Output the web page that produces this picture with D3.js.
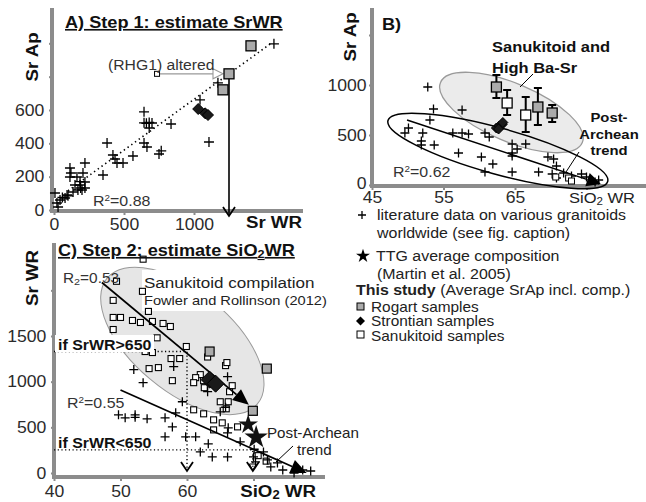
<!DOCTYPE html>
<html><head><meta charset="utf-8">
<script src="https://cdn.jsdelivr.net/npm/d3@7"></script>
<style>
body{margin:0;background:#fff;}
svg{display:block;font-family:Arial,"Liberation Sans",sans-serif;}
</style></head><body>
<script>
// ---- A) Sr whole rock vs Sr apatite ----
const litA = [[1571,997],[1043,661],[1171,763],[643,589],[643,523],[660,520],[680,525],[700,522],[680,492],[836,516],
  [643,402],[664,378],[750,336],[766,355],[1107,408],[379,402],[421,330],[436,306],[450,282],[493,282],[564,324],
  [350,210],[221,168],[164,198],[114,252],[121,222],[114,198],[221,282],[207,222],[186,150],[171,120],[200,120],
  [221,132],[136,108],[93,90],[79,72],[43,60],[21,42],[29,18],[7,102],[150,150],[186,170],[190,132],[60,75],[100,85]];
const rogartA = [[1407,985],[1250,817],[1207,721]];
const strontianA = [[1030,606],[1080,580],[1100,570]];
const alteredA = [[736,817]];
const fitA = [[100,115],[1560,1006]];
const xTicksA = [0,500,1000];
const yTicksA = [0,200,400,600,800,1000];

// ---- B) SiO2 WR vs Sr apatite ----
const litB = [[52.8,980],[53.6,760],[53.1,650],[57.6,750],[50.1,570],[49.6,520],[52.1,520],[51.9,400],[53.7,400],
  [57.1,320],[56.3,520],[57.6,520],[58.5,510],[60.8,520],[61.4,480],[60.3,280],[61.9,210],[60.8,130],[64.6,410],
  [64.6,320],[64.6,290],[65.3,360],[66.5,410],[64.6,130],[68.3,130],[69.6,280],[70.4,260],[70.8,190],[70.2,110],
  [71.8,120],[70.8,70],[72.9,90],[74.3,110],[75.0,80],[76.2,30],[76.7,50],[51.9,440]];
const sanukLitB = [[70.7,80],[72.5,70],[72.9,40]];
const rogartB = [[62.4,980,870,1100],[68.2,780,600,970],[70.2,720,630,800]];
const sanukB = [[63.9,820,700,950],[66.5,700,530,880]];
const strontianB = [[62.4,570],[62.8,590],[63.2,605],[62.7,560],[63.3,625]];
const fitB = [[49.9,650],[77.0,10]];
const xTicksB = [45,55,65,75];
const xLabelsB = [45,55,65];
const yTicksB = [0,500,1000,1500];
const yLabelsB = [0,500,1000];

// ---- C) SiO2 WR vs Sr WR ----
const sanukC = [[53.4,2341],[49.4,2099],[53.3,1989],[48.9,1890],[54.2,1769],[48.9,1703],[50.0,1703],[51.8,1670],
  [53.0,1648],[54.8,1659],[56.4,1637],[57.5,1604],[48.9,1571],[59.9,1385],[53.7,1330],[54.8,1319],[57.6,1253],
  [58.9,1253],[54.3,1143],[55.7,1154],[57.8,1011],[62.0,1077],[61.3,1044],[61.0,989],[62.5,1011],[62.6,934],
  [65.8,1176],[66.0,1209],[66.8,956],[66.4,890],[65.0,780],[66.2,780],[65.9,703],[61.0,692],[62.5,648],[64.0,582],
  [65.3,549],[64.0,472],[67.6,505],[63.1,1270],[55.5,1480],[70.7,190],[71.9,130]];
const litC = [[52.0,1132],[53.4,989],[58.0,1165],[59.3,780],[58.3,659],[49.7,637],[50.7,604],[52.2,637],[52.2,610],
  [54.0,593],[56.7,604],[57.8,505],[56.7,396],[59.8,396],[61.3,396],[63.2,319],[62.0,231],[63.8,176],[66.1,176],
  [66.1,440],[66.2,495],[65.0,670],[66.1,1055],[68.0,341],[70.0,176],[70.3,121],[71.5,231],[72.1,143],[72.6,66],
  [73.6,110],[74.4,33],[76.1,0],[77.4,33],[78.6,22],[63.1,890],[65.8,720],[70.1,260]];
const rogartC = [[63.4,1330],[72.0,1143],[69.9,681]];
const strontianC = [[63.4,1022],[64.3,978]];
const ttgC = [[69.2,530],[70.4,390]];
const fitC1 = [[47.2,2086],[69.3,746]];
const fitC2 = [[50.0,909],[78.0,0]];
const cutHi = [60,1330];
const cutLo = [69.9,253];
const xTicksC = [40,50,60,70];
const xLabelsC = [40,50,60];
const yTicksC = [0,500,1000,1500,2000];

const legendLines = ['literature data on various granitoids','worldwide (see fig. caption)',
  'TTG average composition','(Martin et al. 2005)'];
const legendStudy = ['Rogart samples','Strontian samples','Sanukitoid samples'];

const SX = 1.1;
const AX = '#8c8c8c';
const GREY = '#ababab';

const svg = d3.select('body').append('svg').attr('width',646).attr('height',502);

function txt(g, x, y, parts, o = {}) {
  const size = o.size || 14;
  const t = g.append('text')
    .attr('transform', `translate(${x},${y})${o.rot ? ' rotate(' + o.rot + ')' : ''} scale(${SX},1)`)
    .attr('font-size', size)
    .attr('font-weight', o.bold ? 'bold' : null)
    .attr('text-anchor', o.anchor || 'start')
    .attr('fill', o.fill || '#111');
  if (o.deco) t.attr('text-decoration', o.deco);
  if (typeof parts === 'string') parts = [{t: parts}];
  parts.forEach(p => {
    const s = t.append('tspan').text(p.t);
    if (p.bold) s.attr('font-weight', 'bold');
    if (p.sup) { s.attr('font-size', size * 0.62).attr('dy', -size * 0.38); }
    if (p.sub) { s.attr('font-size', size * 0.7).attr('dy', size * 0.12); }
    if (p.back) s.attr('dy', p.back * size);
  });
  return t;
}

function crosses(g, data, x, y, r) {
  g.selectAll(null).data(data).enter().append('path')
    .attr('d', `M${-r},0H${r}M0,${-r}V${r}`)
    .attr('transform', d => `translate(${x(d[0])},${y(d[1])})`)
    .attr('stroke', '#000').attr('stroke-width', 1.3).attr('fill', 'none');
}
function squares(g, data, x, y, s, fill, sw) {
  g.selectAll(null).data(data).enter().append('rect')
    .attr('x', d => x(d[0]) - s / 2).attr('y', d => y(d[1]) - s / 2)
    .attr('width', s).attr('height', s)
    .attr('fill', fill).attr('stroke', '#000').attr('stroke-width', sw);
}
function diamonds(g, data, x, y, r) {
  g.selectAll(null).data(data).enter().append('path')
    .attr('d', `M0,${-r}L${r},0L0,${r}L${-r},0Z`)
    .attr('transform', d => `translate(${x(d[0])},${y(d[1])})`)
    .attr('fill', '#1a1a1a').attr('stroke', '#000').attr('stroke-width', 1);
}
function headFill(g, x1, y1, x2, y2, len, half) {
  const a = Math.atan2(y2 - y1, x2 - x1);
  const bx = x2 - len * Math.cos(a), by = y2 - len * Math.sin(a);
  const px = -Math.sin(a) * half, py = Math.cos(a) * half;
  g.append('path').attr('d', `M${x2},${y2}L${bx + px},${by + py}L${bx - px},${by - py}Z`).attr('fill', '#000');
  return [bx, by];
}
function chevron(g, x, y, w, h) {
  g.append('path').attr('d', `M${x - w},${y - h}L${x},${y}L${x + w},${y - h}`)
    .attr('fill', 'none').attr('stroke', '#000').attr('stroke-width', 1.8);
}
function axes(g, x, y, o) {
  const xa = g.append('g').attr('transform', `translate(0,${o.xAt})`)
    .call(d3.axisBottom(x).tickValues(o.xt).tickSize(4).tickPadding(o.xpad)
      .tickFormat(d => o.xl.includes(d) ? d : ''));
  const ya = g.append('g').attr('transform', `translate(${o.yAt},0)`)
    .call(d3.axisLeft(y).tickValues(o.yt).tickSize(3).tickPadding(o.ypad)
      .tickFormat(d => o.yl.includes(d) ? d : ''));
  [xa, ya].forEach(a => {
    a.select('.domain').remove();
    a.selectAll('line').attr('stroke', AX).attr('stroke-width', 2);
    a.selectAll('text').attr('font-size', 16).attr('fill', '#2b2b2b')
      .attr('font-family', 'Arial, "Liberation Sans", sans-serif')
      .attr('transform', `scale(${SX},1)`);
  });
  g.append('line').attr('x1', o.yAt).attr('x2', o.xEnd).attr('y1', o.xAt).attr('y2', o.xAt)
    .attr('stroke', AX).attr('stroke-width', 4);
  g.append('line').attr('x1', o.yAt).attr('x2', o.yAt).attr('y1', o.xAt + 2).attr('y2', o.yEnd)
    .attr('stroke', AX).attr('stroke-width', 4);
  return ya;
}
const line = (x, y) => d3.line().x(d => x(d[0])).y(d => y(d[1]));

// ================= Panel A =================
const xA = d3.scaleLinear().domain([0, 1000]).range([54, 194]);
const yA = d3.scaleLinear().domain([0, 600]).range([210, 110]);
const gA = svg.append('g');
axes(gA, xA, yA, {xAt: 211, yAt: 52, xEnd: 303, yEnd: 8, xt: xTicksA, xl: xTicksA, yt: yTicksA,
  yl: [0, 200, 400, 600], xpad: 4, ypad: 4});
gA.append('path').datum(fitA).attr('d', line(xA, yA)).attr('fill', 'none')
  .attr('stroke', '#000').attr('stroke-width', 1.6).attr('stroke-dasharray', '1.4,3.2');
crosses(gA, litA, xA, yA, 5);
// altered sample arrow
const ax0 = xA(alteredA[0][0]) + 3, ay = yA(alteredA[0][1]);
const ax1 = xA(rogartA[1][0]) - 6;
gA.append('line').attr('x1', ax0).attr('x2', ax1 - 9).attr('y1', ay).attr('y2', ay)
  .attr('stroke', '#999').attr('stroke-width', 1.3);
gA.append('path').attr('d', `M${ax1 - 10},${ay - 5}L${ax1},${ay}L${ax1 - 10},${ay + 5}Z`)
  .attr('fill', '#fff').attr('stroke', '#999').attr('stroke-width', 1.1);
// vertical arrow to x axis
const vx = xA(rogartA[1][0]);
gA.append('line').attr('x1', vx).attr('x2', vx).attr('y1', yA(rogartA[1][1])).attr('y2', yA(0) + 5)
  .attr('stroke', '#000').attr('stroke-width', 1.6);
chevron(gA, vx, yA(0) + 6, 6, 9);
squares(gA, alteredA, xA, yA, 5, '#fff', 1);
squares(gA, rogartA, xA, yA, 10, GREY, 1.3);
diamonds(gA, strontianA, xA, yA, 5.5);
txt(gA, 65, 28, 'A) Step 1: estimate SrWR', {size: 16.5, bold: true, deco: 'underline'});
txt(gA, 108, 70, '(RHG1) altered', {size: 14.3, fill: '#333'});
txt(gA, 93, 206, [{t: 'R'}, {t: '2', sup: true}, {t: '=0.88', back: 0.38}], {size: 14.5, fill: '#333'});
txt(gA, 38, 57, 'Sr Ap', {size: 17, bold: true, rot: -90, anchor: 'middle'});
txt(gA, 302, 228, 'Sr WR', {size: 17, bold: true, anchor: 'end'});

// ================= Panel B =================
const xB = d3.scaleLinear().domain([45, 65]).range([372, 515]);
const yB = d3.scaleLinear().domain([0, 1000]).range([185, 85]);
const gB = svg.append('g');
const ellB1 = {cx: 64.5, cy: 725, rx: 77, ry: 29, rot: 23};
const ellB2 = {cx: 62.6, cy: 340, rx: 114, ry: 23, rot: 15.5};
gB.append('ellipse').attr('rx', ellB1.rx).attr('ry', ellB1.ry)
  .attr('transform', `translate(${xB(ellB1.cx)},${yB(ellB1.cy)}) rotate(${ellB1.rot})`)
  .attr('fill', '#ebebeb').attr('stroke', '#9a9a9a').attr('stroke-width', 1.3);
const yaB = axes(gB, xB, yB, {xAt: 186, yAt: 372, xEnd: 646, yEnd: 8, xt: xTicksB, xl: xLabelsB, yt: yTicksB,
  yl: yLabelsB, xpad: 2, ypad: 2});
yaB.selectAll('.tick text').filter(d => d === 0).attr('y', -2);
gB.append('ellipse').attr('rx', ellB2.rx).attr('ry', ellB2.ry)
  .attr('transform', `translate(${xB(ellB2.cx)},${yB(ellB2.cy)}) rotate(${ellB2.rot})`)
  .attr('fill', 'none').attr('stroke', '#000').attr('stroke-width', 1.5);
{
  const p0 = [xB(fitB[0][0]), yB(fitB[0][1])], p1 = [xB(fitB[1][0]), yB(fitB[1][1])];
  const b = headFill(gB, p0[0], p0[1], p1[0], p1[1], 14, 7);
  gB.append('line').attr('x1', p0[0]).attr('y1', p0[1]).attr('x2', b[0]).attr('y2', b[1])
    .attr('stroke', '#000').attr('stroke-width', 1.5);
}
crosses(gB, litB, xB, yB, 4.5);
squares(gB, sanukLitB, xB, yB, 6, '#fff', 1);
[[rogartB, GREY], [sanukB, '#fff']].forEach(([data, fill]) => {
  const eb = gB.append('g');
  eb.selectAll(null).data(data).enter().append('path')
    .attr('d', d => `M${xB(d[0])},${yB(d[2])}V${yB(d[3])}M${xB(d[0]) - 4},${yB(d[2])}h8M${xB(d[0]) - 4},${yB(d[3])}h8`)
    .attr('stroke', '#000').attr('stroke-width', 2).attr('fill', 'none');
  squares(eb, data, xB, yB, 10, fill, 1.3);
});
diamonds(gB, strontianB, xB, yB, 5);
txt(gB, 382, 30, 'B)', {size: 16.5, bold: true});
txt(gB, 356, 37, 'Sr Ap', {size: 17, bold: true, rot: -90, anchor: 'middle'});
txt(gB, 492, 52, 'Sanukitoid and', {size: 15, bold: true});
txt(gB, 492, 73, 'High Ba-Sr', {size: 15, bold: true});
gB.append('line').attr('x1', 533).attr('y1', 74).attr('x2', 520).attr('y2', 87).attr('stroke', '#000');
txt(gB, 609, 122, 'Post-', {size: 13.5, bold: true, anchor: 'middle'});
txt(gB, 609, 139, 'Archean', {size: 13.5, bold: true, anchor: 'middle'});
txt(gB, 609, 155, 'trend', {size: 13.5, bold: true, anchor: 'middle'});
gB.append('line').attr('x1', 579).attr('y1', 152).attr('x2', 566).attr('y2', 172).attr('stroke', '#000');
txt(gB, 393, 177, [{t: 'R'}, {t: '2', sup: true}, {t: '=0.62', back: 0.38}], {size: 14.5, fill: '#333'});
txt(gB, 569, 203, [{t: 'SiO'}, {t: '2', sub: true}, {t: ' WR', back: -0.12}], {size: 15, fill: '#222'});

// legend
const gL = svg.append('g');
crosses(gL, [[0, 0]], () => 362, () => 215, 4);
txt(gL, 377, 220, legendLines[0], {size: 14.5, fill: '#222'});
txt(gL, 377, 238, legendLines[1], {size: 14.5, fill: '#222'});
gL.append('path').attr('d', d3.symbol(d3.symbolStar, 60)()).attr('transform', 'translate(363,256)').attr('fill', '#000');
txt(gL, 376, 261, legendLines[2], {size: 14.5, fill: '#222'});
txt(gL, 377, 279, legendLines[3], {size: 14.5, fill: '#222'});
txt(gL, 356, 295, [{t: 'This study', bold: true}, {t: ' (Average SrAp incl. comp.)'}], {size: 14.5, fill: '#222'});
gL.append('rect').attr('x', 357).attr('y', 303).attr('width', 7).attr('height', 7).attr('fill', GREY).attr('stroke', '#000');
gL.append('path').attr('d', 'M0,-4.5L4.5,0L0,4.5L-4.5,0Z').attr('transform', 'translate(360.5,321)').attr('fill', '#000');
gL.append('rect').attr('x', 357).attr('y', 331).attr('width', 7).attr('height', 7).attr('fill', '#fff').attr('stroke', '#000');
legendStudy.forEach((s, i) => txt(gL, 371, 311.5 + i * 14.5, s, {size: 14, fill: '#222'}));

// ================= Panel C =================
const xC = d3.scaleLinear().domain([40, 60]).range([54, 187]);
const yC = d3.scaleLinear().domain([0, 1500]).range([473, 336]);
const gC = svg.append('g');
const ellC = {cx: 59.3, cy: 1446, rx: 98, ry: 50, rot: 40};
gC.append('ellipse').attr('rx', ellC.rx).attr('ry', ellC.ry)
  .attr('transform', `translate(${xC(ellC.cx)},${yC(ellC.cy)}) rotate(${ellC.rot})`)
  .attr('fill', '#e6e6e6').attr('stroke', '#999').attr('stroke-width', 1);
gC.append('rect').attr('x', 142).attr('y', 270).attr('width', 190).attr('height', 41).attr('fill', '#fff');
axes(gC, xC, yC, {xAt: 477, yAt: 54, xEnd: 325, yEnd: 243, xt: xTicksC, xl: xLabelsC, yt: yTicksC,
  yl: [0, 500, 1000, 1500], xpad: 5, ypad: 4});
// cut-off guides
gC.append('path').attr('d', `M${xC(40)},${yC(cutHi[1])}H${xC(cutHi[0])}V${yC(0) - 3}`)
  .attr('fill', 'none').attr('stroke', '#000').attr('stroke-width', 1.4).attr('stroke-dasharray', '1.2,2.5');
gC.append('path').attr('d', `M${xC(40)},${yC(cutLo[1])}H${xC(cutLo[0])}V${yC(0) - 3}`)
  .attr('fill', 'none').attr('stroke', '#000').attr('stroke-width', 1.4).attr('stroke-dasharray', '1.2,2.5');
chevron(gC, xC(cutHi[0]), yC(0) - 2, 6, 9);
chevron(gC, xC(cutLo[0]), yC(0) - 2, 6, 9);
gC.append('path').attr('d', `M${xC(cutLo[0]) - 3.5},${yC(0) - 9}h7l-3.5,6Z`).attr('fill', 'none').attr('stroke', '#000');
squares(gC, sanukC, xC, yC, 6, '#fff', 1.1);
crosses(gC, litC, xC, yC, 4.5);
[fitC1, fitC2].forEach(f => {
  const p0 = [xC(f[0][0]), yC(f[0][1])], p1 = [xC(f[1][0]), yC(f[1][1])];
  const b = headFill(gC, p0[0], p0[1], p1[0], p1[1], 16, 7);
  gC.append('line').attr('x1', p0[0]).attr('y1', p0[1]).attr('x2', b[0]).attr('y2', b[1])
    .attr('stroke', '#000').attr('stroke-width', 1.7);
});
squares(gC, rogartC, xC, yC, 9, GREY, 1.2);
diamonds(gC, strontianC, xC, yC, 8.5);
gC.selectAll(null).data(ttgC).enter().append('path')
  .attr('d', (d, i) => d3.symbol(d3.symbolStar, i ? 170 : 120)())
  .attr('transform', d => `translate(${xC(d[0])},${yC(d[1])})`).attr('fill', '#111');
// labels
gC.append('rect').attr('x', 55).attr('y', 335).attr('width', 99).attr('height', 17).attr('fill', '#fff');
txt(gC, 58, 350, 'if SrWR>650', {size: 14.5, bold: true});
txt(gC, 58, 448, 'if SrWR<650', {size: 14.5, bold: true});
txt(gC, 58, 256, [{t: 'C) Step 2: estimate SiO'}, {t: '2', sub: true}, {t: 'WR', back: -0.12}],
  {size: 16.5, bold: true, deco: 'underline'});
txt(gC, 63, 283, [{t: 'R'}, {t: '2', sub: true}, {t: '=0.53', back: -0.12}], {size: 14, fill: '#333'});
txt(gC, 67, 408, [{t: 'R'}, {t: '2', sup: true}, {t: '=0.55', back: 0.38}], {size: 14.5, fill: '#333'});
txt(gC, 144, 288, 'Sanukitoid compilation', {size: 15.5, fill: '#222'});
txt(gC, 144, 305, 'Fowler and Rollinson (2012)', {size: 13.3, fill: '#222'});
txt(gC, 267, 438, 'Post-Archean', {size: 13.8, fill: '#222'});
txt(gC, 297, 455, 'trend', {size: 13.8, fill: '#222'});
gC.append('line').attr('x1', 293).attr('y1', 446).attr('x2', 276).attr('y2', 462).attr('stroke', '#000');
txt(gC, 38, 278, 'Sr WR', {size: 17, bold: true, rot: -90, anchor: 'middle'});
txt(gC, 316, 497, [{t: 'SiO'}, {t: '2', sub: true}, {t: ' WR', back: -0.12}], {size: 17, bold: true, anchor: 'end'});
</script>
</body></html>
